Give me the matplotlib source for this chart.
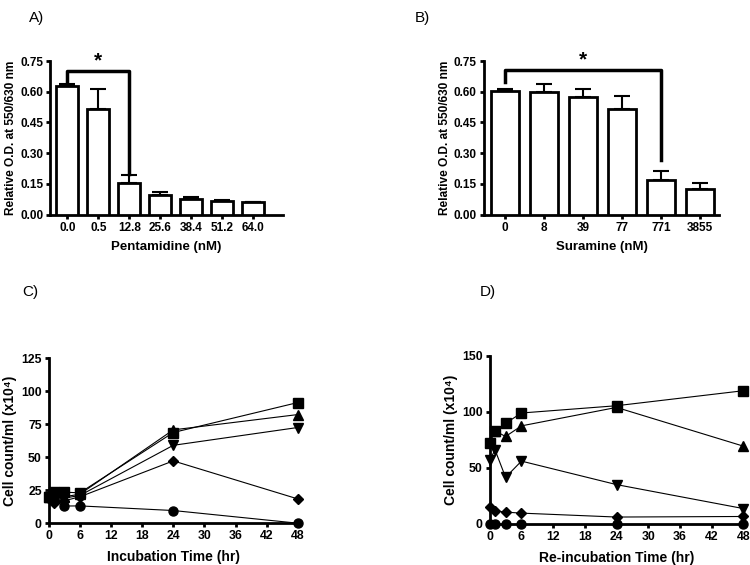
import matplotlib.pyplot as plt

plt.rcParams['font.family'] = ['Liberation Sans', 'DejaVu Sans']
plt.rcParams['font.weight'] = 'bold'

# panel A
pent_labels = ['0.0', '0.5', '12.8', '25.6', '38.4', '51.2', '64.0']
pent_od = [0.628, 0.518, 0.153, 0.097, 0.078, 0.067, 0.060]
pent_err = [0.008, 0.094, 0.042, 0.013, 0.010, 0.006, 0.003]

# panel B
sur_labels = ['0', '8', '39', '77', '771', '3855']
sur_od = [0.605, 0.598, 0.573, 0.515, 0.170, 0.125]
sur_err = [0.010, 0.038, 0.042, 0.066, 0.041, 0.028]

# panel C
time_c = [0, 1, 3, 6, 24, 48]
c_square = [20, 24, 23.5, 23, 68.7, 91.4]
c_up = [20, 21, 20, 22, 70.7, 82.3]
c_down = [20, 18, 19, 21, 59, 72.5]
c_diamond = [19, 15, 17, 20, 47.2, 18.4]
c_circle = [19, 17, 13, 13.1, 9.6, 0]

# panel D
time_d = [0, 1, 3, 6, 24, 48]
d_square = [72.6, 83.2, 89.8, 99, 105.5, 118.9]
d_up = [73, 83, 78, 87.5, 104, 69.4]
d_down = [57, 66, 41.5, 56, 35, 13.6]
d_diamond = [14.8, 11.6, 10.4, 9.5, 6, 6.5]
d_circle = [0, 0, 0, 0, 0, 0]

fig = plt.figure(figsize=(7.5, 5.65), dpi=100)


def style(ax, size):
    for s in ['top', 'right']:
        ax.spines[s].set_visible(False)
    for s in ['left', 'bottom']:
        ax.spines[s].set_linewidth(2)
    ax.tick_params(width=2, length=3, pad=2, labelsize=size)
    for lab in ax.get_xticklabels() + ax.get_yticklabels():
        lab.set_fontweight('bold')


def bars(ax, labels, vals, errs, xlim, xlabel):
    x = list(range(len(vals)))
    ax.bar(x, vals, width=0.72, color='white', edgecolor='black', linewidth=2, zorder=3)
    ax.errorbar(x, vals, yerr=[[0] * len(vals), errs], fmt='none', ecolor='black',
                elinewidth=1.5, capsize=6, capthick=1.5, zorder=2)
    ax.set_ylim(0, 0.75)
    ax.set_yticks([0, 0.15, 0.30, 0.45, 0.60, 0.75])
    ax.set_yticklabels(['0.00', '0.15', '0.30', '0.45', '0.60', '0.75'])
    ax.set_xlim(*xlim)
    ax.set_xticks(x)
    ax.set_xticklabels(labels)
    ax.set_xlabel(xlabel, fontsize=9.5, fontweight='bold', labelpad=5)
    ax.set_ylabel('Relative O.D. at 550/630 nm', fontsize=8.6, fontweight='bold', labelpad=2)
    style(ax, 8.5)


def bracket(ax, i0, i1, y_left, y_right, y_top):
    ax.plot([i0, i0, i1, i1], [y_left, y_top, y_top, y_right], color='black', lw=2.5,
            clip_on=False, zorder=4)
    ax.text((i0 + i1) / 2, y_top + 0.003, '*', ha='center', va='bottom', fontsize=15,
            fontweight='bold')


axA = fig.add_axes([0.067, 0.62, 0.31, 0.272])
bars(axA, pent_labels, pent_od, pent_err, (-0.55, 6.95), 'Pentamidine (nM)')
bracket(axA, 0, 2, 0.65, 0.197, 0.703)

axB = fig.add_axes([0.645, 0.62, 0.314, 0.272])
bars(axB, sur_labels, sur_od, sur_err, (-0.54, 5.49), 'Suramine (nM)')
bracket(axB, 0, 4, 0.65, 0.268, 0.706)


def lines(ax, t, series, ylim, yticks, xlabel):
    markers = ['s', '^', 'v', 'D', 'o']
    sizes = [6.5, 6.5, 6.5, 5.5, 6.5]
    for ys, m, ms in zip(series, markers, sizes):
        ax.plot(t, ys, color='black', lw=0.8, marker=m, markersize=ms, clip_on=False, zorder=3)
    ax.set_xlim(0, 48)
    ax.set_xticks([0, 6, 12, 18, 24, 30, 36, 42, 48])
    ax.set_ylim(*ylim)
    ax.set_yticks(yticks)
    ax.set_xlabel(xlabel, fontsize=10, fontweight='bold', labelpad=6)
    ax.set_ylabel('Cell count/ml (x10\u2074)', fontsize=10, fontweight='bold', labelpad=3)
    style(ax, 8.8)


axC = fig.add_axes([0.065, 0.074, 0.332, 0.292])
lines(axC, time_c, [c_square, c_up, c_down, c_diamond, c_circle], (0, 125),
      [0, 25, 50, 75, 100, 125], 'Incubation Time (hr)')

axD = fig.add_axes([0.653, 0.073, 0.338, 0.297])
lines(axD, time_d, [d_square, d_up, d_down, d_diamond, d_circle], (0, 150),
      [0, 50, 100, 150], 'Re-incubation Time (hr)')

fig.text(0.038, 0.98, 'A)', fontsize=11, fontweight='normal', va='top')
fig.text(0.553, 0.98, 'B)', fontsize=11, fontweight='normal', va='top')
fig.text(0.03, 0.495, 'C)', fontsize=11, fontweight='normal', va='top')
fig.text(0.64, 0.495, 'D)', fontsize=11, fontweight='normal', va='top')

fig.savefig('out.png', dpi=100)
